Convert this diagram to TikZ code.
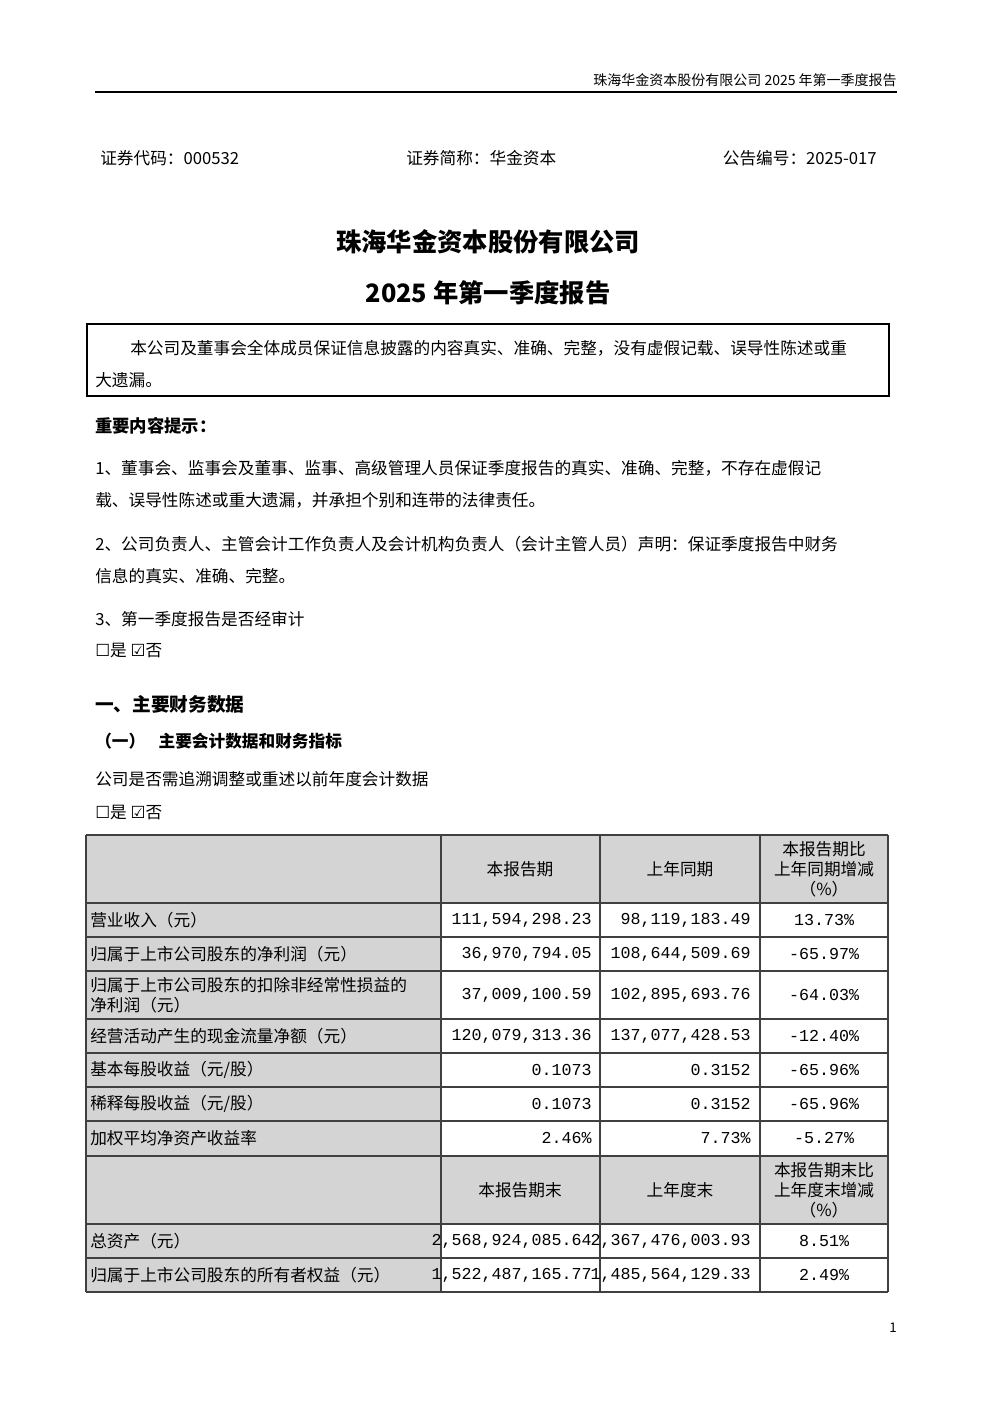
\documentclass[tikz,border=0pt]{standalone}
\usepackage{fontspec}
\setmainfont{Noto Sans CJK SC}
\newfontfamily\mono{Liberation Mono}
\newfontfamily\sym{DejaVu Sans}
\newcommand{\tabrow}[5]{%
 \node[txt] at (90,#1) {#2};
 \node[num] at (592,#1) {#3};
 \node[num] at (751,#1) {#4};
 \node[pct] at (824,#1) {#5};}
\begin{document}
\begin{tikzpicture}[x=0.75pt,y=-0.75pt,
  txt/.style={anchor=west,inner sep=0,font=\fontsize{12.5}{15}\selectfont},
  hd/.style={anchor=center,inner sep=0,font=\fontsize{12.5}{15}\selectfont,align=center},
  num/.style={anchor=east,inner sep=0,font=\mono\fontsize{12.5}{15}\selectfont},
  pct/.style={anchor=center,inner sep=0,font=\mono\fontsize{12.5}{15}\selectfont},
  grid/.style={draw=black!75,line width=0.8pt},
  shade/.style={fill=black!17}]
\useasboundingbox (0,0) rectangle (992,1403);
% header
\node[anchor=east,inner sep=0,font=\fontsize{10.5}{12}\selectfont] (hdr) at (897,80) {珠海华金资本股份有限公司 2025 年第一季度报告};
\draw[line width=1.2pt] (95,92) -- (897,92);
\node[txt] (code) at (100,158) {证券代码：000532};
\node[txt] (abbr) at (406,158) {证券简称：华金资本};
\node[anchor=east,inner sep=0,font=\fontsize{12.5}{15}\selectfont] (no) at (877,158) {公告编号：2025-017};
\node[anchor=center,inner sep=0,font=\bfseries\fontsize{19}{22}\selectfont] (t1) at (488,242) {珠海华金资本股份有限公司};
\node[anchor=center,inner sep=0,font=\bfseries\fontsize{19}{22}\selectfont] (t2) at (488,293) {2025 年第一季度报告};
\draw[line width=0.8pt] (87,324) rectangle (889,396);
\node[txt] (b1) at (130,348) {本公司及董事会全体成员保证信息披露的内容真实、准确、完整，没有虚假记载、误导性陈述或重};
\node[txt] (b2) at (95,380) {大遗漏。};
\node[txt,font=\bfseries\fontsize{13}{15}\selectfont] (imp) at (95,426) {重要内容提示：};
\node[txt] (l1) at (95,468) {1、董事会、监事会及董事、监事、高级管理人员保证季度报告的真实、准确、完整，不存在虚假记};
\node[txt] (l2) at (95,500) {载、误导性陈述或重大遗漏，并承担个别和连带的法律责任。};
\node[txt] (l3) at (95,544) {2、公司负责人、主管会计工作负责人及会计机构负责人（会计主管人员）声明：保证季度报告中财务};
\node[txt] (l4) at (95,576) {信息的真实、准确、完整。};
\node[txt] (l5) at (95,619) {3、第一季度报告是否经审计};
\node[txt] (c1) at (95,651) {{\sym ☐}是 {\sym ☑}否};
\node[txt,font=\bfseries\fontsize{14}{16}\selectfont] (s1) at (95,704) {一、主要财务数据};
\node[txt,font=\bfseries\fontsize{12.5}{15}\selectfont] (s2) at (95,741) {（一）\hspace{10pt}主要会计数据和财务指标};
\node[txt] (q) at (95,779) {公司是否需追溯调整或重述以前年度会计数据};
\node[txt] (c2) at (95,813) {{\sym ☐}是 {\sym ☑}否};
% table shading
\fill[shade] (86,835) rectangle (888,903);
\fill[shade] (86,1156) rectangle (888,1224);
\fill[shade] (86,903) rectangle (441,1156);
\fill[shade] (86,1224) rectangle (441,1292);
% grid
\foreach \yy in {835,903,937,971,1019,1053,1087,1121,1156,1224,1258,1292} \draw[grid] (86,\yy) -- (888,\yy);
\foreach \xx in {86,441,600,760,888} \draw[grid] (\xx,835) -- (\xx,1292);
% headers
\node[hd] (h1) at (520,869) {本报告期};
\node[hd] (h2) at (680,869) {上年同期};
\node[hd] (h3) at (824,869) {本报告期比\\上年同期增减\\（\%）};
\node[hd] (h4) at (520,1190) {本报告期末};
\node[hd] (h5) at (680,1190) {上年度末};
\node[hd] (h6) at (824,1190) {本报告期末比\\上年度末增减\\（\%）};
% rows
\tabrow{920}{营业收入（元）}{111,594,298.23}{98,119,183.49}{13.73\%}
\tabrow{954}{归属于上市公司股东的净利润（元）}{36,970,794.05}{108,644,509.69}{-65.97\%}
\tabrow{1036}{经营活动产生的现金流量净额（元）}{120,079,313.36}{137,077,428.53}{-12.40\%}
\tabrow{1070}{基本每股收益（元/股）}{0.1073}{0.3152}{-65.96\%}
\tabrow{1104}{稀释每股收益（元/股）}{0.1073}{0.3152}{-65.96\%}
\tabrow{1138}{加权平均净资产收益率}{2.46\%}{7.73\%}{-5.27\%}
\tabrow{1241}{总资产（元）}{2,568,924,085.64}{2,367,476,003.93}{8.51\%}
\tabrow{1275}{归属于上市公司股东的所有者权益（元）}{1,522,487,165.77}{1,485,564,129.33}{2.49\%}
\node[txt,align=left] (r3) at (90,995) {归属于上市公司股东的扣除非经常性损益的\\净利润（元）};
\node[num] (r3b) at (592,995) {37,009,100.59};
\node[num] (r3c) at (751,995) {102,895,693.76};
\node[pct] (r3d) at (824,995) {-64.03\%};
\node[anchor=center,inner sep=0,font=\fontsize{10}{12}\selectfont] (pg) at (893,1328) {1};
\end{tikzpicture}
\end{document}
